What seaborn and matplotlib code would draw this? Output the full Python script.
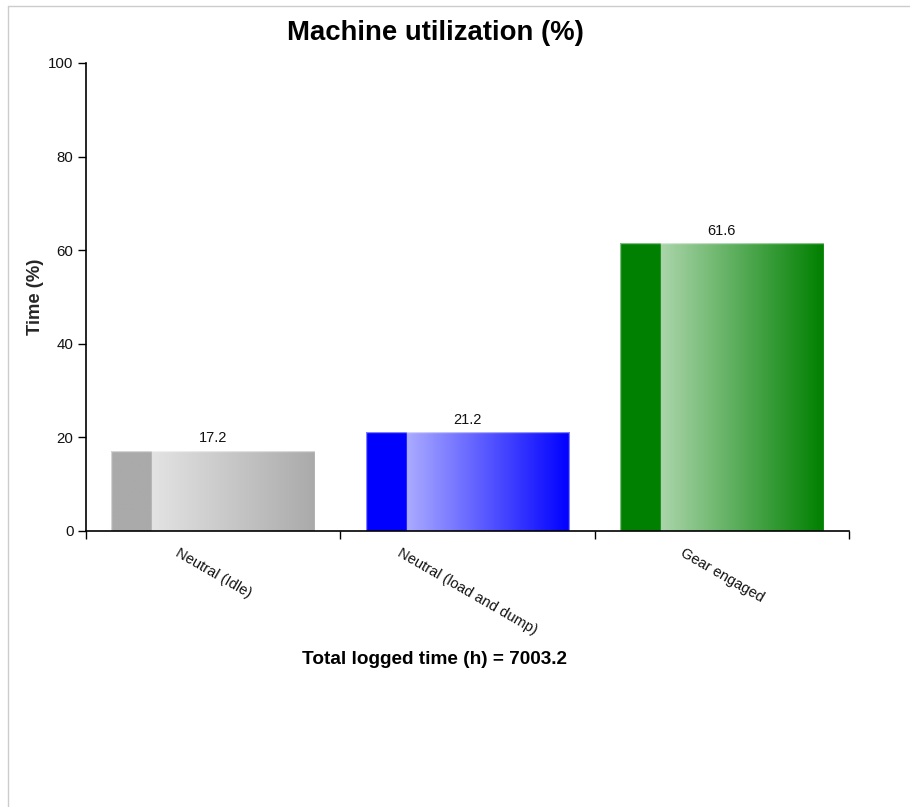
import numpy as np
import pandas as pd
import matplotlib
matplotlib.use("Agg")
import matplotlib.pyplot as plt
import matplotlib.colors as mcolors
from matplotlib.lines import Line2D
import seaborn as sns

categories = ["Neutral (Idle)", "Neutral (load and dump)", "Gear engaged"]
values = [17.2, 21.2, 61.6]
bar_colors = ["#aaaaaa", "#0000ff", "#008000"]
yticks = [0, 20, 40, 60, 80, 100]
title = "Machine utilization (%)"
xlabel = "Total logged time (h) = 7003.2"
ylabel = "Time (%)"

sns.set_theme(style="white")
plt.rcParams['font.family'] = ['Liberation Sans', 'DejaVu Sans']

W, H = 910, 807
fig = plt.figure(figsize=(W / 100, H / 100), dpi=100)
ax = fig.add_axes([86 / W, (H - 531) / H, (849 - 86) / W, (531 - 63) / H])

df = pd.DataFrame({"cat": categories, "val": values})
sns.barplot(data=df, x="cat", y="val", hue="cat", palette=bar_colors,
            width=0.8, legend=False, ax=ax, saturation=1, edgecolor="none")

ax.set_xlim(-0.5, len(categories) - 0.5)
ax.set_ylim(0, 100)

# gradient overlay on each bar
for patch, col in zip(ax.patches, bar_colors):
    x0, y0 = patch.get_x(), patch.get_y()
    w, h = patch.get_width(), patch.get_height()
    base = np.array(mcolors.to_rgb(col))
    light = base + (1 - base) * 0.67
    n = 400
    t = np.linspace(0, 1, n)
    img = np.zeros((1, n, 3))
    for i, tt in enumerate(t):
        if tt < 0.2:
            c = base
        else:
            f = (tt - 0.2) / 0.8
            c = light * (1 - f) + base * f
        img[0, i] = c
    im = ax.imshow(img, extent=[x0, x0 + w, y0, y0 + h], aspect="auto",
                   interpolation="bilinear", zorder=patch.get_zorder() + 0.1)
    im.set_clip_path(patch)
    ax.add_patch(plt.Rectangle((x0, y0), w, h, fill=False,
                               edgecolor=(1, 1, 1, 0.5), linewidth=1,
                               zorder=patch.get_zorder() + 0.2))
    ax.text(x0 + w / 2, y0 + h + 1.1, f"{h:.1f}", ha="center", va="bottom",
            fontsize=10.5, color="#111111")

ax.set_aspect("auto")

# axes styling
for s in ["top", "right"]:
    ax.spines[s].set_visible(False)
for s in ["left", "bottom"]:
    ax.spines[s].set_color("#000000")
    ax.spines[s].set_linewidth(1.2)

ax.set_yticks(yticks)
ax.set_yticklabels([str(v) for v in yticks], fontsize=10.8, color="#111111")
ax.tick_params(axis="y", which="major", direction="out", length=6, width=1,
               color="#000000", pad=3, left=True)

ax.set_xticks(range(len(categories)))
ax.set_xticklabels(categories, rotation=-30, ha="center", va="top",
                   fontsize=10.5, color="#111111")
ax.tick_params(axis="x", which="major", length=0, pad=11)
ax.set_xticks(np.arange(-0.5, len(categories), 1.0), minor=True)
ax.tick_params(axis="x", which="minor", direction="out", length=6, width=1,
               color="#000000", bottom=True)

ax.set_xlabel("")
ax.set_ylabel(ylabel, fontsize=13.2, fontweight="bold", labelpad=3)

fig.text(435 / W, 1 - 33 / H, title, ha="center", va="center",
         fontsize=19.8, fontweight="bold", color="#000000")
fig.text(435 / W, 1 - 660 / H, xlabel, ha="center", va="center",
         fontsize=13.7, fontweight="bold", color="#000000")

# light frame lines (top and left)
fig.add_artist(Line2D([8 / W, 1], [1 - 6 / H, 1 - 6 / H], color="#cccccc",
                      linewidth=1, transform=fig.transFigure))
fig.add_artist(Line2D([8 / W, 8 / W], [0, 1 - 6 / H], color="#cccccc",
                      linewidth=1, transform=fig.transFigure))

fig.savefig("out.png", dpi=100, facecolor="white")
